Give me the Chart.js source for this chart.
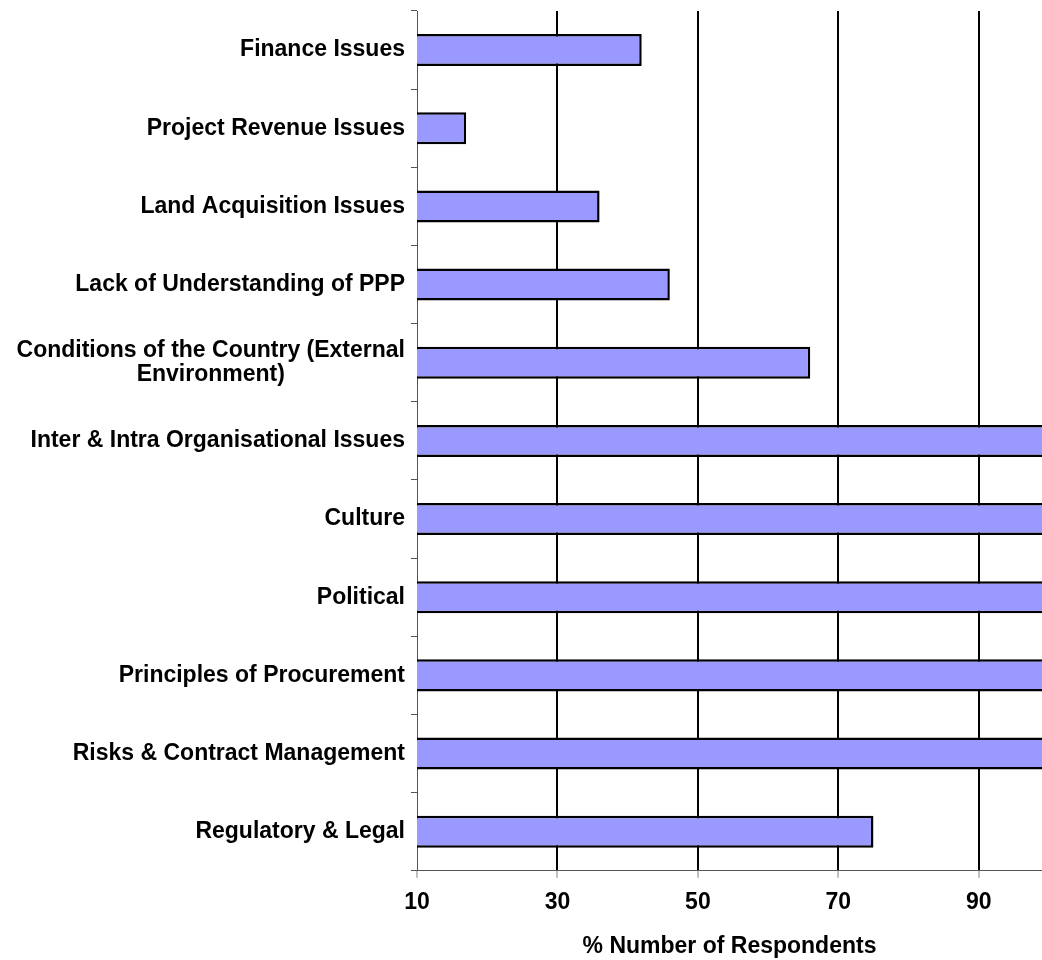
<!DOCTYPE html>
<html>
<head>
<meta charset="utf-8">
<script src="https://cdn.jsdelivr.net/npm/chart.js@4"></script>
<style>
  html, body { margin: 0; padding: 0; background: #fff; overflow: hidden; }
  #wrap { position: relative; width: 1042px; height: 960px; }
</style>
</head>
<body>
<div id="wrap"><canvas id="chart"></canvas></div>
<script>
// Data
const categories = [
  "Finance Issues",
  "Project Revenue Issues",
  "Land Acquisition Issues",
  "Lack of Understanding of PPP",
  ["Conditions of the Country (External", "Environment)"],
  "Inter & Intra Organisational Issues",
  "Culture",
  "Political",
  "Principles of Procurement",
  "Risks & Contract Management",
  "Regulatory & Legal",
];
const respondents = [42, 17, 36, 46, 66, 100, 100, 100, 100, 100, 75];
const xTicks = [10, 30, 50, 70, 90];
const xMin = 10;
const xMax = 99;

const FONT = "'Liberation Sans', Arial, sans-serif";

// Category labels: right aligned to the axis, wrapped lines centred on each other
const labelPlugin = {
  id: "catLabels",
  afterDraw(chart) {
    const ctx = chart.ctx;
    const y = chart.scales.y;
    const right = chart.chartArea.left - 12;
    const lineH = 24;
    ctx.save();
    ctx.font = "bold 23px " + FONT;
    ctx.fillStyle = "#000";
    ctx.textBaseline = "middle";
    ctx.textAlign = "center";
    categories.forEach((lab, i) => {
      const lines = Array.isArray(lab) ? lab : [lab];
      const cy = y.getPixelForValue(i);
      const w = Math.max(...lines.map(l => ctx.measureText(l).width));
      const cx = right - w / 2;
      lines.forEach((l, k) => {
        const ly = cy + (k - (lines.length - 1) / 2) * lineH;
        ctx.fillText(l, cx, ly);
      });
    });
    ctx.restore();
  }
};

new Chart(document.getElementById("chart"), {
  type: "bar",
  data: {
    labels: categories,
    datasets: [{
      data: respondents,
      backgroundColor: "#9999ff",
      borderColor: "#000",
      borderWidth: 2.5,
      borderSkipped: false,
      barPercentage: 0.41,
      categoryPercentage: 1,
    }],
  },
  options: {
    indexAxis: "y",
    responsive: true,
    maintainAspectRatio: false,
    animation: false,
    layout: { padding: { top: 11, right: 0, bottom: 0, left: 0 } },
    plugins: {
      legend: { display: false },
      tooltip: { enabled: false },
    },
    scales: {
      x: {
        min: xMin,
        max: xMax,
        afterBuildTicks: (scale) => {
          scale.ticks = xTicks.map(v => ({ value: v }));
        },
        ticks: {
          color: "#000",
          font: { family: FONT, size: 23, weight: "bold" },
          padding: 11,
          maxRotation: 0,
        },
        grid: {
          color: (c) => (c.tick && c.tick.value === xMin ? "rgba(0,0,0,0)" : "#000"),
          lineWidth: 2,
          tickColor: "#808080",
          tickWidth: 1,
          tickLength: 7,
        },
        border: { display: true, color: "#555", width: 1 },
        title: {
          display: true,
          text: "% Number of Respondents",
          color: "#000",
          font: { family: FONT, size: 23, weight: "bold" },
          padding: { top: 5, bottom: 0 },
        },
      },
      y: {
        afterFit: (scale) => { scale.width = 417; },
        ticks: { color: "rgba(0,0,0,0)", font: { size: 1 } },
        grid: {
          offset: true,
          drawOnChartArea: false,
          drawTicks: true,
          tickLength: 6,
          tickColor: "#555",
          tickWidth: 1,
        },
        border: { display: true, color: "#555", width: 1 },
      },
    },
  },
  plugins: [labelPlugin],
});
</script>
</body>
</html>
